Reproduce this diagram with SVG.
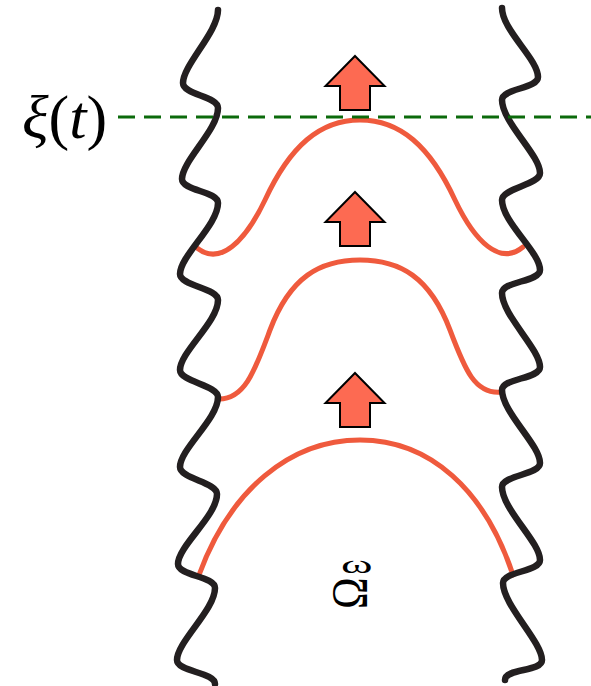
<svg xmlns="http://www.w3.org/2000/svg" xmlns:xlink="http://www.w3.org/1999/xlink" width="591" height="686" viewBox="0 0 591 686">
<style>
.wall{fill:none;stroke:#231f20;stroke-width:6.5;stroke-linecap:round;stroke-linejoin:round}
.front{fill:none;stroke:#ef5a3d;stroke-width:5;stroke-linecap:round}
.arrow{fill:#fd6a52;stroke:#000;stroke-width:2;stroke-linejoin:miter}
.dash{fill:none;stroke:#0b6a0b;stroke-width:3.2;stroke-dasharray:17 9}
.lbl{font-family:"Liberation Serif","DejaVu Serif",serif;fill:#000}
</style>
<defs>
<polygon id="arr" class="arrow" points="0,0 29.5,30 15,30 15,54 -15,54 -15,30 -29.5,30"/>
</defs>
<rect width="591" height="686" fill="#fff"/>
<g id="fronts">
<path id="front1" class="front" d="M197,248 C220,266 245,242 265,200 C290,146 320,120 360,120 C400,120 430,146 455,200 C475,242 500,266 523,247"/>
<path id="front2" class="front" d="M218,399 C245,400 255,370 270,330 C290,277 320,260 360,260 C400,260 430,277 450,330 C465,370 475,395 502,392"/>
<path id="front3" class="front" d="M199,575 C230,490 290,440 360,440 C430,440 485,490 513,575"/>
</g>
<g id="walls">
<path id="wall-left" class="wall" d="M218,10 C218,32 183,65 183,83 C183,95 218,96 218,108 C218,130 182,161 182,179 C182,191 218,191 218,203 C218,225 180,256 180,274 C180,286 218,288 218,300 C218,322 180,352 180,370 C180,382 218,385 218,397 C218,419 180,449 180,467 C180,479 217,482 217,494 C217,516 178,546 178,564 C178,576 215,576 215,588 C215,610 177,642 177,660 C177,672 215,672 215,684"/>
<path id="wall-right" class="wall" d="M502,8 C502,30 538,59 538,77 C538,89 502,88 502,100 C502,122 540,155 540,173 C540,185 502,188 502,200 C502,222 540,252 540,270 C540,282 502,281 502,293 C502,315 540,349 540,367 C540,379 502,378 502,390 C502,412 540,445 540,463 C540,475 502,475 502,487 C502,509 540,542 540,560 C540,572 503,571 503,583 C503,605 542,642 542,660 C542,672 505,668 505,680"/>
</g>
<g id="arrows">
<use id="arrow1" xlink:href="#arr" transform="translate(355,56)"/>
<use id="arrow2" xlink:href="#arr" transform="translate(355,192)"/>
<use id="arrow3" xlink:href="#arr" transform="translate(355,373)"/>
</g>
<g id="connectors">
<line id="xi-line" class="dash" x1="118" y1="117" x2="591" y2="117"/>
</g>
<g id="label-xi">
<text class="lbl" x="22" y="138" font-size="62"><tspan font-style="italic">ξ</tspan><tspan>(</tspan><tspan font-style="italic">t</tspan><tspan>)</tspan></text>
</g>
<g id="label-omega">
<text class="lbl" font-size="50" transform="translate(366,609) rotate(-90) scale(0.85,1)">Ω</text>
<text class="lbl" font-size="40" transform="translate(341,573) scale(1.2,0.65)">ω</text>
</g>
</svg>
